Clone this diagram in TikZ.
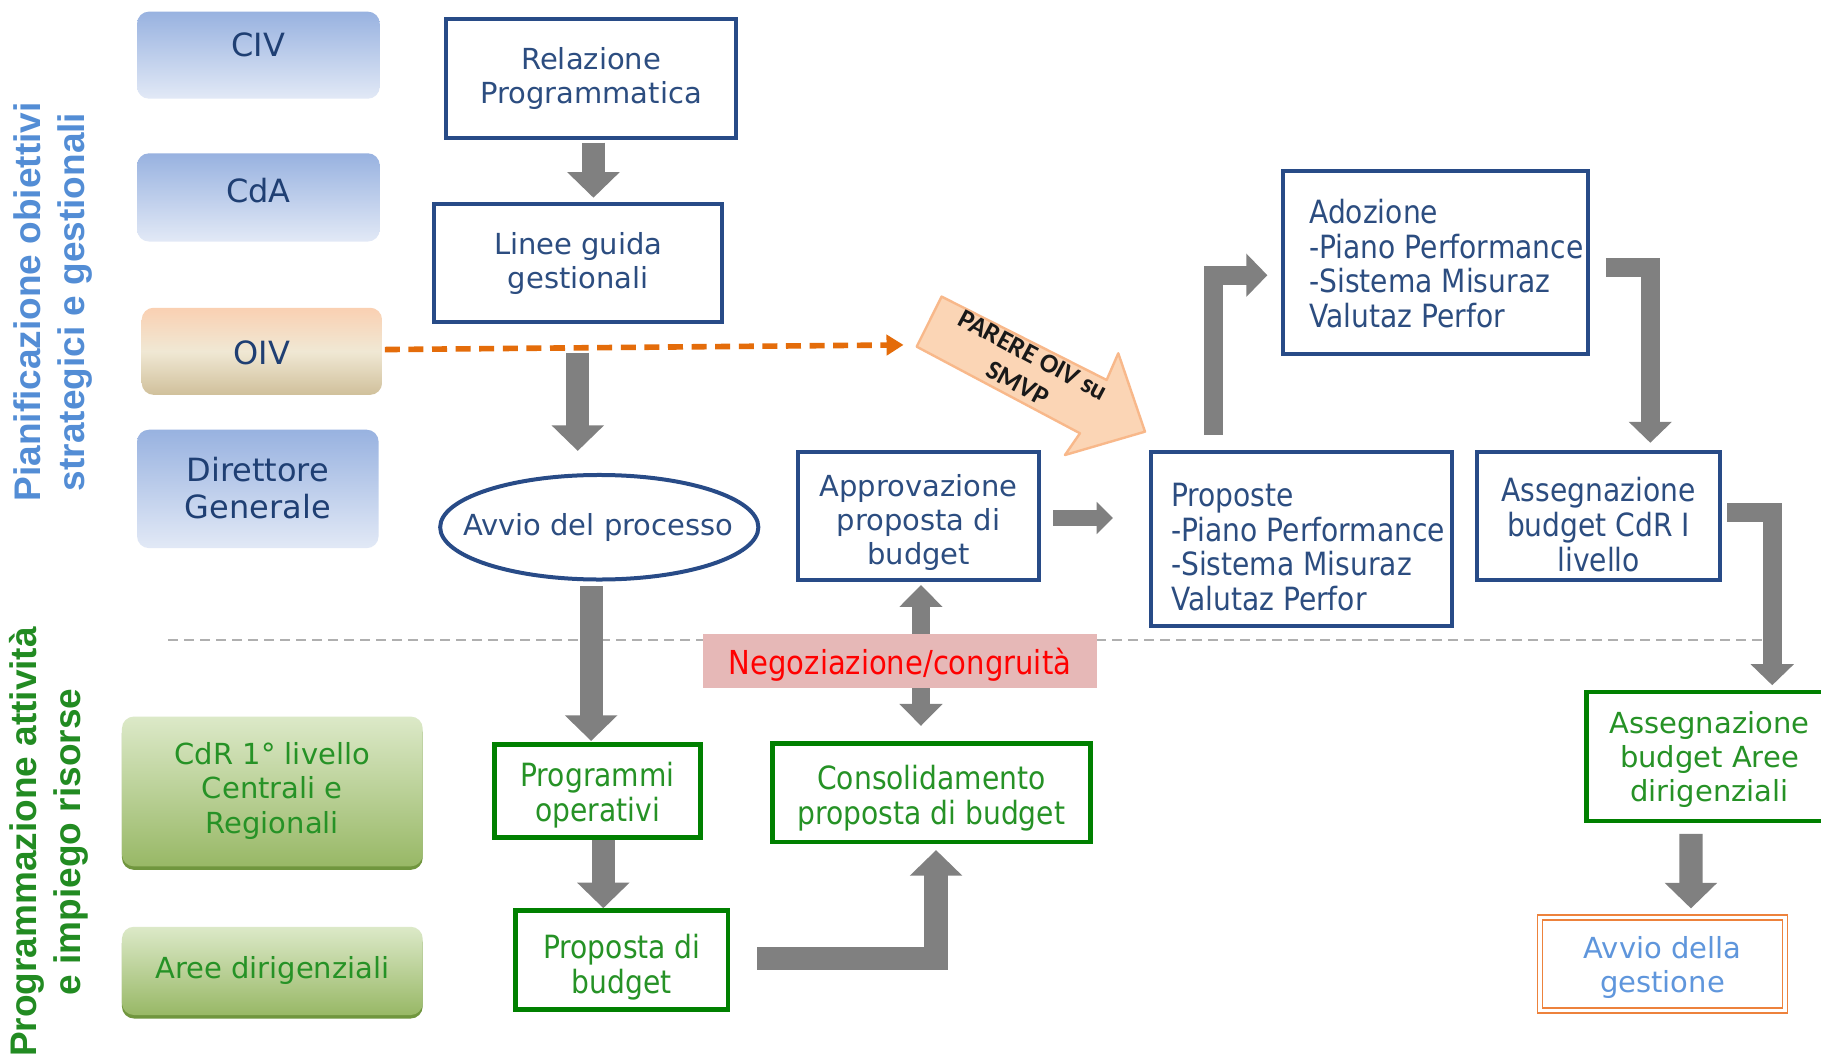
\documentclass[tikz,border=0pt]{standalone}
\usepackage{fontspec}
\setmainfont{DejaVu Sans}
\newfontfamily\narrowf{DejaVu Sans}[FakeStretch=0.88]
\newfontfamily\arialf{Liberation Sans}
\newfontfamily\calf{Carlito}
\usetikzlibrary{arrows.meta,calc,shapes.geometric}
\newlength\UU
\setlength\UU{0.5807pt}

\definecolor{navyB}{RGB}{40,75,135}
\definecolor{navyT}{RGB}{44,77,128}
\definecolor{greenB}{RGB}{0,128,0}
\definecolor{greenT}{RGB}{38,146,38}
\definecolor{arrG}{RGB}{128,128,128}
\definecolor{orangeD}{RGB}{228,108,10}
\definecolor{titleB}{RGB}{83,141,213}
\definecolor{titleG}{RGB}{34,139,34}
\definecolor{pinkN}{RGB}{230,184,183}
\definecolor{parereF}{RGB}{251,213,181}
\definecolor{parereD}{RGB}{248,184,138}
\definecolor{lbTop}{RGB}{152,178,224}
\definecolor{lbBot}{RGB}{226,233,246}
\definecolor{lgTop}{RGB}{220,233,200}
\definecolor{lgBot}{RGB}{152,184,102}
\definecolor{lgEdge}{RGB}{112,150,62}
\definecolor{oivTop}{RGB}{250,208,178}
\definecolor{oivMid}{RGB}{240,232,212}
\definecolor{oivBot}{RGB}{208,192,155}
\definecolor{lbText}{RGB}{31,63,115}
\definecolor{avgT}{RGB}{95,150,220}
\definecolor{avgB}{RGB}{237,130,60}
\definecolor{sepG}{RGB}{175,175,175}

\tikzset{
  vfont/.style={font=\fontsize{14.5}{17}\selectfont},
  nfont/.style={font=\narrowf\fontsize{16}{17.4}\selectfont},
  bbox/.style={draw=navyB, line width=2pt, fill=white, inner sep=0pt, align=center, text=navyT},
  gbox/.style={draw=greenB, line width=2.3pt, fill=white, inner sep=0pt, align=center, text=greenT},
  btext/.style={inner sep=0pt, align=center, text=navyT},
  gtext/.style={inner sep=0pt, align=center, text=greenT},
  lbox/.style={rounded corners=6pt, inner sep=0pt, top color=lbTop, bottom color=lbBot, draw=none},
  lgbox/.style={rounded corners=6pt, inner sep=0pt, top color=lgTop, bottom color=lgBot, draw=none},
  ltext/.style={font=\fontsize{16}{18.6}\selectfont, text=lbText, align=center, inner sep=0pt},
  lgtext/.style={font=\fontsize{14.5}{17.4}\selectfont, text=greenT, align=center, inner sep=0pt},
  lefttitle/.style={rotate=90, align=center, inner sep=0pt, font=\arialf\bfseries\fontsize{18.5}{22}\selectfont},
  gA/.style={draw=arrG, line width=11.6pt, line join=miter, -{Triangle[width=25.5pt,length=12.8pt]}},
  gB/.style={draw=arrG, line width=9.6pt, line join=miter, -{Triangle[width=21pt,length=10.5pt]}},
  gC/.style={draw=arrG, line width=8.4pt, -{Triangle[width=15.7pt,length=8.1pt]}},
  gBB/.style={draw=arrG, line width=9.3pt, {Triangle[width=21pt,length=11pt]}-{Triangle[width=21pt,length=11pt]}},
  orangedash/.style={draw=orangeD, line width=2.8pt, dash pattern=on 7.5pt off 4.3pt, -{Triangle[width=10pt,length=8.5pt]}},
}

\begin{document}
\begin{tikzpicture}[x=0.5807pt, y=-0.5807pt]
\useasboundingbox (0,0) rectangle (1568,911);
\clip (0,0) rectangle (1568,911);
\fill[white] (0,0) rectangle (1568,911);

% separator
\draw[sepG, line width=1.2pt, dash pattern=on 5pt off 3pt] (145,551) -- (1530,551);

% left titles
\node[lefttitle, text=titleB] (tplan) at (46,260) {Pianificazione obiettivi\\strategici e gestionali};
\node[lefttitle, text=titleG] (tprog) at (42,725) {Programmazione attività\\e impiego risorse};

% left boxes
\node[lbox, minimum width=209\UU, minimum height=75\UU] (civ) at (222.5,47.5) {};
\node[ltext] (civt) at (222.5,39) {CIV};
\node[lbox, minimum width=209\UU, minimum height=76\UU] (cda) at (222.5,170) {};
\node[ltext] (cdat) at (222.5,164) {CdA};
\node[rounded corners=6pt, inner sep=0pt, top color=oivTop, bottom color=oivBot, middle color=oivMid, minimum width=207\UU, minimum height=75\UU] (oiv) at (225.5,302.5) {};
\node[ltext] (oivt) at (225.5,304) {OIV};
\node[lbox, minimum width=208\UU, minimum height=102\UU] (dir) at (222,421) {};
\node[ltext] (dirt) at (222,420) {Direttore\\Generale};

\fill[lgEdge, rounded corners=6pt] (105,621) rectangle (364,749);
\node[lgbox, minimum width=259\UU, minimum height=129\UU] (cdr) at (234.5,681.5) {};
\node[lgtext] (cdrt) at (234.5,681) {CdR 1° livello\\Centrali e\\Regionali};
\fill[lgEdge, rounded corners=6pt] (105,802) rectangle (364,877);
\node[lgbox, minimum width=259\UU, minimum height=76\UU] (are) at (234.5,836) {};
\node[lgtext] (aret) at (234.5,836) {Aree dirigenziali};

% main boxes
\node[bbox, vfont, minimum width=250\UU, minimum height=103\UU] (rel) at (509,67.5) {Relazione\\Programmatica};
\node[bbox, vfont, minimum width=248\UU, minimum height=101\UU] (lin) at (498,226.5) {Linee guida\\gestionali};
\node[bbox, ellipse, minimum width=274\UU, minimum height=90\UU] (avv) at (516,454) {};
\node[btext, vfont] (avvt) at (515,454) {Avvio del processo};
\node[bbox, minimum width=208\UU, minimum height=110\UU] (apr) at (791,444) {};
\node[btext, vfont] (aprt) at (791,450) {Approvazione\\proposta di\\budget};
\node[bbox, minimum width=259\UU, minimum height=150\UU] (prp) at (1120.5,464) {};
\node[nfont, text=navyT, align=left, anchor=west, inner sep=0pt] (prpt) at (1008,471) {Proposte\\-Piano Performance\\-Sistema Misuraz\\Valutaz Perfor};
\node[bbox, minimum width=262\UU, minimum height=158\UU] (ado) at (1236,226) {};
\node[nfont, text=navyT, align=left, anchor=west, inner sep=0pt] (adot) at (1127,227) {Adozione\\-Piano Performance\\-Sistema Misuraz\\Valutaz Perfor};
\node[bbox, minimum width=209\UU, minimum height=110\UU] (acr) at (1376.5,444) {};
\node[btext, nfont] (acrt) at (1376.5,451.5) {Assegnazione\\budget CdR I\\livello};
\node[gbox, minimum width=214\UU, minimum height=111\UU] (aad) at (1473,651.5) {};
\node[gtext, vfont] (aadt) at (1472,654) {Assegnazione\\budget Aree\\dirigenziali};
\node[draw=avgB, double=white, double distance=1.6pt, line width=0.9pt, fill=white, inner sep=0pt, minimum width=211\UU, minimum height=80\UU] (avg) at (1431.5,830) {};
\node[vfont, text=avgT, align=center, inner sep=0pt] (avgt) at (1431.5,833) {Avvio della\\gestione};
\node[gbox, minimum width=177\UU, minimum height=80\UU] (prg) at (514.5,681) {};
\node[gtext, nfont] (prgt) at (514.5,685) {Programmi\\operativi};
\node[gbox, minimum width=183\UU, minimum height=85\UU] (pbd) at (535.5,826.5) {};
\node[gtext, nfont] (pbdt) at (535.5,833) {Proposta di\\budget};
\node[gbox, minimum width=274\UU, minimum height=85\UU] (cns) at (802,682.5) {};
\node[gtext, nfont] (cnst) at (802,687.5) {Consolidamento\\proposta di budget};

% PARERE block arrow
\filldraw[fill=parereF, draw=parereD, line width=1.2pt, line join=round]
  (810.8,255.4) -- (952.9,327.2) -- (962.9,304.2) -- (985.9,371.7) -- (917,391.8) -- (929.9,373.1) -- (789.3,298.5) -- cycle;
\node[rotate=-28, font=\calf\bfseries\fontsize{13.5}{16}\selectfont, align=center, inner sep=0pt, text=black!90] (parere) at (883,318) {PARERE OIV su\\SMVP};

% orange dashed connector
\coordinate (parerein) at (778,297);
\draw[orangedash] ($(oiv.east)+(2,-1.5)$) -- (parerein);

% grey arrows
\draw[gA] ($(rel.south)+(2,2)$) -- ($(lin.north)+(13,-4)$);
\draw[gA] ($(lin.south)+(-0.5,25)$) -- ($(avv.north)+(-18.5,-19)$);
\draw[gA] ($(avv.south)+(-7,4)$) -- ($(prg.north)+(-5.5,-1)$);
\draw[gA] ($(prg.south)+(5,0)$) -- ($(pbd.north)+(-16,0)$);
\draw[gA] ($(pbd.east)+(23,-1.5)$) -| ($(cns.south)+(4,5)$);
\draw[gBB] ($(apr.south)+(2,3)$) -- ($(cns.north)+(-9,-13)$);
\draw[gC] ($(apr.east)+(10,2)$) -- ($(prp.west)+(-31,-18)$);
\draw[gB] ($(prp.north)+(-75.5,-13)$) |- ($(ado.west)+(-12,11)$);
\draw[gB] ($(ado.east)+(14,4)$) -| ($(acr.north)+(44.5,-6)$);
\draw[gB] ($(acr.east)+(4.5,-3)$) -| ($(aad.north)+(53,-4)$);
\draw[gA] ($(aad.south)+(-17,9)$) -- ($(avg.north)+(24.5,-7)$);

% negotiation label
\node[fill=pinkN, inner sep=0pt, minimum width=340\UU, minimum height=46\UU] (neg) at (775,569) {};
\node[text=red, font=\narrowf\fontsize{16.5}{18}\selectfont, inner sep=0pt] (negt) at (775,572) {Negoziazione/congruità};
\end{tikzpicture}
\end{document}
